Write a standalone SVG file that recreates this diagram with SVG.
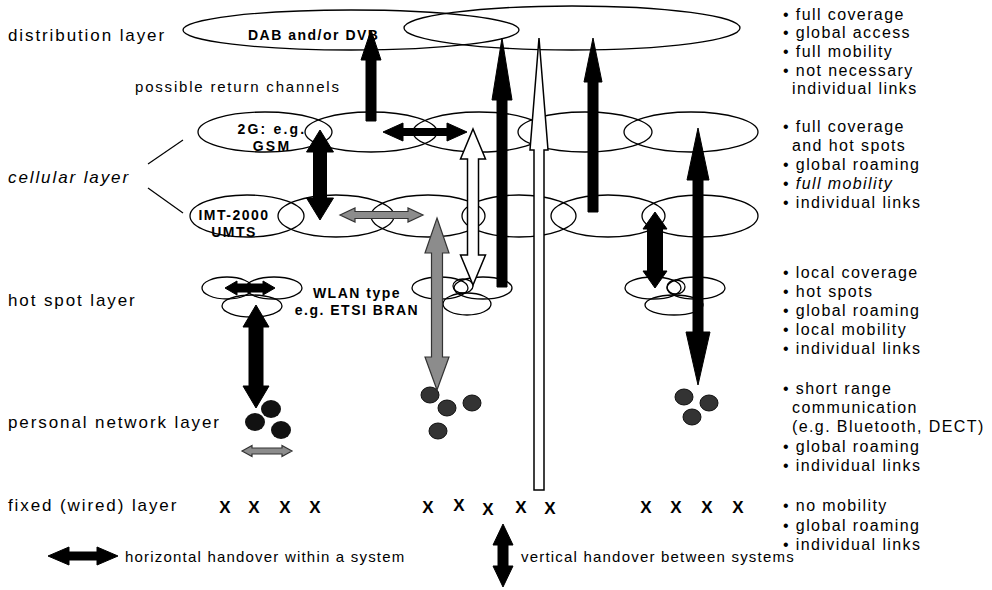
<svg xmlns="http://www.w3.org/2000/svg" width="992" height="590" viewBox="0 0 992 590">
<style>
.cell{fill:none;stroke:#000;stroke-width:1.3}
.lbl{font-family:"Liberation Sans",Arial,sans-serif;font-size:17px;letter-spacing:1.9px;fill:#000}
.bul{font-family:"Liberation Sans",Arial,sans-serif;font-size:16px;letter-spacing:1.4px;fill:#000}
.bold{font-family:"Liberation Sans",Arial,sans-serif;font-size:14px;font-weight:bold;letter-spacing:1.5px;fill:#000}
.x{font-family:"Liberation Sans",Arial,sans-serif;font-size:17px;font-weight:bold;fill:#000;text-anchor:middle}
.blk{fill:#000;stroke:#000;stroke-width:1}
.wht{fill:#fff;stroke:#000;stroke-width:1.5}
.gry{fill:#8c8c8c;stroke:#333;stroke-width:1.2}
.dot{fill:#111}
.dot2{fill:#333;stroke:#111;stroke-width:1}
</style>
<rect width="992" height="590" fill="#fff"/>

<g id="labels">
<text class="lbl" x="8" y="41">distribution layer</text>
<text class="lbl" x="8" y="183" font-style="italic">cellular layer</text>
<text class="lbl" x="8" y="306">hot spot layer</text>
<text class="lbl" x="8" y="428">personal network layer</text>
<text class="lbl" x="8" y="511">fixed (wired) layer</text>
<text class="lbl" x="135" y="92" style="font-size:15px;letter-spacing:1.8px">possible return channels</text>
<line x1="148" y1="164" x2="183" y2="140" stroke="#000" stroke-width="1.2"/>
<line x1="148" y1="188" x2="183" y2="213" stroke="#000" stroke-width="1.2"/>
</g>

<g id="distribution-layer">
<ellipse class="cell" cx="351" cy="30" rx="168" ry="20"/>
<ellipse class="cell" cx="572" cy="28" rx="168" ry="22"/>
<text class="bold" x="248" y="40">DAB and/or DVB</text>
</g>

<g id="cellular-2g">
<ellipse class="cell" cx="265" cy="132" rx="67" ry="20"/>
<ellipse class="cell" cx="371" cy="132" rx="66" ry="20"/>
<ellipse class="cell" cx="479" cy="132" rx="66" ry="20"/>
<ellipse class="cell" cx="585" cy="132" rx="67" ry="20"/>
<ellipse class="cell" cx="691" cy="132" rx="67" ry="20"/>
<text class="bold" x="272" y="134" text-anchor="middle" style="letter-spacing:2.2px">2G: e.g.</text>
<text class="bold" x="272" y="151" text-anchor="middle" style="letter-spacing:2.2px">GSM</text>
</g>

<g id="cellular-umts">
<ellipse class="cell" cx="247" cy="216" rx="57" ry="21"/>
<ellipse class="cell" cx="336" cy="216" rx="58" ry="21"/>
<ellipse class="cell" cx="428" cy="216" rx="57" ry="21"/>
<ellipse class="cell" cx="519" cy="216" rx="57" ry="21"/>
<ellipse class="cell" cx="608" cy="216" rx="57" ry="21"/>
<ellipse class="cell" cx="700" cy="216" rx="58" ry="21"/>
<text class="bold" x="234" y="220" text-anchor="middle">IMT-2000</text>
<text class="bold" x="234" y="237" text-anchor="middle">UMTS</text>
</g>

<g id="hotspot-1">
<ellipse class="cell" cx="227" cy="288" rx="25" ry="11"/>
<ellipse class="cell" cx="274" cy="288" rx="28" ry="11"/>
<ellipse class="cell" cx="252" cy="306" rx="30" ry="11"/>
</g>
<g id="hotspot-2">
<ellipse class="cell" cx="440" cy="288" rx="28" ry="11"/>
<ellipse class="cell" cx="483" cy="288" rx="29" ry="11"/>
<ellipse class="cell" cx="467" cy="304" rx="24" ry="11"/>
<ellipse class="cell" cx="463" cy="286" rx="10" ry="7"/>
</g>
<g id="hotspot-3">
<ellipse class="cell" cx="653" cy="288" rx="28" ry="11"/>
<ellipse class="cell" cx="696" cy="288" rx="29" ry="11"/>
<ellipse class="cell" cx="674" cy="305" rx="29" ry="10"/>
<ellipse class="cell" cx="676" cy="287" rx="9" ry="7"/>
</g>
<g id="wlan-label">
<text class="bold" x="357" y="298" text-anchor="middle">WLAN type</text>
<text class="bold" x="357" y="315" text-anchor="middle">e.g. ETSI BRAN</text>
</g>

<g id="personal-1">
<ellipse class="dot" cx="271" cy="409" rx="10" ry="9"/>
<ellipse class="dot" cx="255" cy="422" rx="10" ry="9"/>
<ellipse class="dot" cx="281" cy="430" rx="10" ry="9"/>
</g>
<g id="personal-2">
<ellipse class="dot2" cx="430" cy="395" rx="9" ry="8"/>
<ellipse class="dot2" cx="447" cy="408" rx="9" ry="8"/>
<ellipse class="dot2" cx="472" cy="403" rx="9" ry="8"/>
<ellipse class="dot2" cx="438" cy="431" rx="9" ry="8"/>
</g>
<g id="personal-3">
<ellipse class="dot2" cx="684" cy="397" rx="9" ry="8"/>
<ellipse class="dot2" cx="709" cy="403" rx="9" ry="8"/>
<ellipse class="dot2" cx="692" cy="417" rx="9" ry="8"/>
</g>

<g id="fixed-1">
<text class="x" x="225" y="513">X</text><text class="x" x="254" y="513">X</text><text class="x" x="285" y="513">X</text><text class="x" x="315" y="513">X</text>
</g>
<g id="fixed-2">
<text class="x" x="428" y="513">X</text><text class="x" x="459" y="511">X</text><text class="x" x="488" y="515">X</text><text class="x" x="521" y="513">X</text><text class="x" x="550" y="514">X</text>
</g>
<g id="fixed-3">
<text class="x" x="646" y="513">X</text><text class="x" x="676" y="513">X</text><text class="x" x="707" y="513">X</text><text class="x" x="738" y="513">X</text>
</g>

<g id="connectors">
<polygon class="blk" points="371,30 381,60 376,60 376,121 366,121 366,60 361,60"/>
<polygon class="blk" points="502,38 512,100 507,100 507,287 497,287 497,100 492,100"/>
<polygon class="wht" points="539,38 548,150 544,150 544,490 534,490 534,150 530,150"/>
<polygon class="blk" points="593,38 602,82 598,82 598,212 588,212 588,82 584,82"/>
<polygon class="blk" points="383,132 403,123 403,128.5 447,128.5 447,123 467,132 447,141 447,135.5 403,135.5 403,141"/>
<polygon class="blk" points="320,130 333.5,152 326.5,152 326.5,198 333.5,198 320,220 306.5,198 313.5,198 313.5,152 306.5,152"/>
<polygon class="gry" points="340,215 355,208 355,211.5 408,211.5 408,208 423,215 408,222 408,218.5 355,218.5 355,222"/>
<polygon class="wht" points="473,129 485.5,159 478.5,159 478.5,255 485.5,255 473,285 460.5,255 467.5,255 467.5,159 460.5,159"/>
<polygon class="gry" points="437,218 449,253 442.5,253 442.5,357 449,357 437,390 425,357 431.5,357 431.5,253 425,253"/>
<polygon class="blk" points="655,212 667,229 662.5,229 662.5,271 667,271 655,288 643,271 647.5,271 647.5,229 643,229"/>
<polygon class="blk" points="698,128 709,180 703,180 703,332 710,332 698,385 686,332 693,332 693,180 687,180"/>
<polygon class="blk" points="225,288 237,281 237,284 263,284 263,281 275,288 263,295 263,292 237,292 237,295"/>
<polygon class="blk" points="256,305 269,327 263,327 263,386 269,386 256,408 243,386 249,386 249,327 243,327"/>
<polygon class="gry" points="242,451 252,445.5 252,448 282,448 282,445.5 292,451 282,456.5 282,454 252,454 252,456.5"/>
</g>

<g id="legend">
<polygon class="blk" points="48,556 69,547 69,552 97,552 97,547 118,556 97,565 97,560 69,560 69,565"/>
<text class="lbl" x="125" y="562" style="font-size:15px;letter-spacing:1.2px">horizontal handover within a system</text>
<polygon class="blk" points="503,524 513,545 508,545 508,566 513,566 503,587 493,566 498,566 498,545 493,545"/>
<text class="lbl" x="521" y="562" style="font-size:15px;letter-spacing:1.2px">vertical handover between systems</text>
</g>

<g id="properties" class="bul">
<text x="783" y="20">• full coverage</text>
<text x="783" y="38">• global access</text>
<text x="783" y="57">• full mobility</text>
<text x="783" y="76">• not necessary</text>
<text x="792" y="94">individual links</text>

<text x="783" y="132">• full coverage</text>
<text x="792" y="151">and hot spots</text>
<text x="783" y="170">• global roaming</text>
<text x="783" y="189">• <tspan font-style="italic">full mobility</tspan></text>
<text x="783" y="208">• individual links</text>

<text x="783" y="278">• local coverage</text>
<text x="783" y="297">• hot spots</text>
<text x="783" y="316">• global roaming</text>
<text x="783" y="335">• local mobility</text>
<text x="783" y="354">• individual links</text>

<text x="783" y="394">• short range</text>
<text x="792" y="413">communication</text>
<text x="792" y="432">(e.g. Bluetooth, DECT)</text>
<text x="783" y="452">• global roaming</text>
<text x="783" y="471">• individual links</text>

<text x="783" y="511">• no mobility</text>
<text x="783" y="531">• global roaming</text>
<text x="783" y="550">• individual links</text>
</g>
</svg>
